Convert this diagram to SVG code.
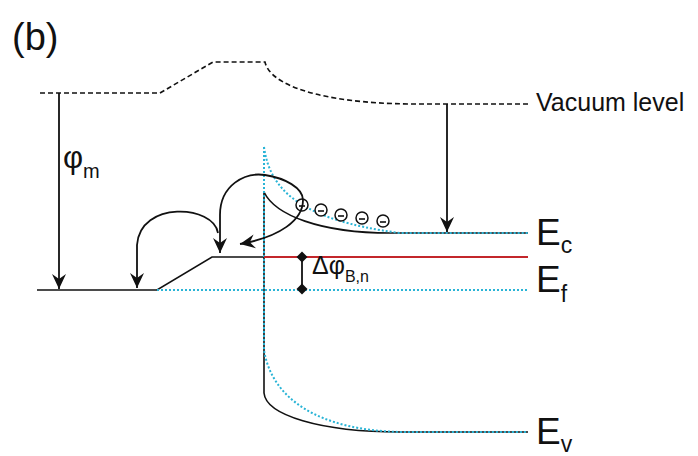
<svg xmlns="http://www.w3.org/2000/svg" width="698" height="456" viewBox="0 0 698 456">
<style>
.t{font-family:"Liberation Sans",Arial,sans-serif;fill:#111}
.blk{fill:none;stroke:#111;stroke-width:1.6}
.vac{fill:none;stroke:#111;stroke-width:1.6;stroke-dasharray:5 3}
.cy{fill:none;stroke:#2ab4d6;stroke-width:2;stroke-dasharray:2 2}
.red{fill:none;stroke:#c3262b;stroke-width:2}
.arr{fill:none;stroke:#111;stroke-width:1.8}
.el{fill:#fff;stroke:#111;stroke-width:1.5}
</style>
<defs>
<marker id="ah" viewBox="-16 -8 18 16" markerWidth="18" markerHeight="16" refX="0" refY="0" orient="auto-start-reverse" markerUnits="userSpaceOnUse">
<path d="M0,0 L-15,-7 L-10,0 L-15,7 Z" fill="#111"/>
</marker>
<marker id="dm" viewBox="-6 -6 12 12" markerWidth="12" markerHeight="12" refX="0" refY="0" markerUnits="userSpaceOnUse">
<path d="M0,-5.5 L5.5,0 L0,5.5 L-5.5,0 Z" fill="#111"/>
</marker>
</defs>
<text class="t" x="12" y="50" font-size="38">(b)</text>
<g id="vacuum">
<path class="vac" d="M40,93 L160,93 L213,62 L265,62 C270,85 320,103 410,104 L530,104"/>
<text class="t" x="536" y="111" font-size="25">Vacuum level</text>
</g>
<g id="metal">
<path class="blk" d="M37,290 L157,290 L212,257 L264,257"/>
</g>
<g id="bands">
<path class="blk" d="M264,192 L264,393 C266,415 320,432 400,432 L528,432"/>
<path class="blk" d="M264,192 C275,215 320,233 390,233 L528,233"/>
<path class="cy" d="M264,147 L264,350 C272,400 320,430 400,432 L528,432"/>
<path class="cy" d="M264,147 C270,190 300,220 400,233 L528,233"/>
<path class="cy" d="M157,290 L528,290"/>
<path class="red" d="M264,257 L528,257"/>
</g>
<g id="labels">
<text class="t" x="536" y="245" font-size="37">E<tspan font-size="23" dy="8">c</tspan></text>
<text class="t" x="536" y="292" font-size="37">E<tspan font-size="23" dy="10">f</tspan></text>
<text class="t" x="536" y="444" font-size="37">E<tspan font-size="23" dy="8">v</tspan></text>
<text class="t" x="63" y="168" font-size="31">φ<tspan font-size="20" dy="10">m</tspan></text>
<text class="t" x="312" y="274" font-size="25">Δφ<tspan font-size="16" dy="8">B,n</tspan></text>
</g>
<g id="electrons">
<circle class="el" cx="302" cy="205" r="6"/><path class="blk" d="M299,206 h6"/>
<circle class="el" cx="321" cy="210" r="6"/><path class="blk" d="M318,211 h6"/>
<circle class="el" cx="341" cy="215" r="6"/><path class="blk" d="M338,216 h6"/>
<circle class="el" cx="362" cy="218" r="6"/><path class="blk" d="M359,219 h6"/>
<circle class="el" cx="383" cy="221" r="6"/><path class="blk" d="M380,222 h6"/>
</g>
<g id="connectors">
<path class="arr" d="M59,93 L59,289" marker-end="url(#ah)"/>
<path class="arr" d="M447,104 L447,232" marker-end="url(#ah)"/>
<path class="arr" d="M218,233 C214,205 140,200 137,245 L137,288" marker-end="url(#ah)"/>
<path class="arr" d="M220,253 L220,215 C220,185 245,172 265,175 C285,178 303,188 303,200 C303,220 280,237 240,244" marker-start="url(#ah)" marker-end="url(#ah)"/>
<path class="arr" d="M302,257 L302,289" marker-start="url(#dm)" marker-end="url(#dm)" stroke-width="2"/>
</g>
</svg>
